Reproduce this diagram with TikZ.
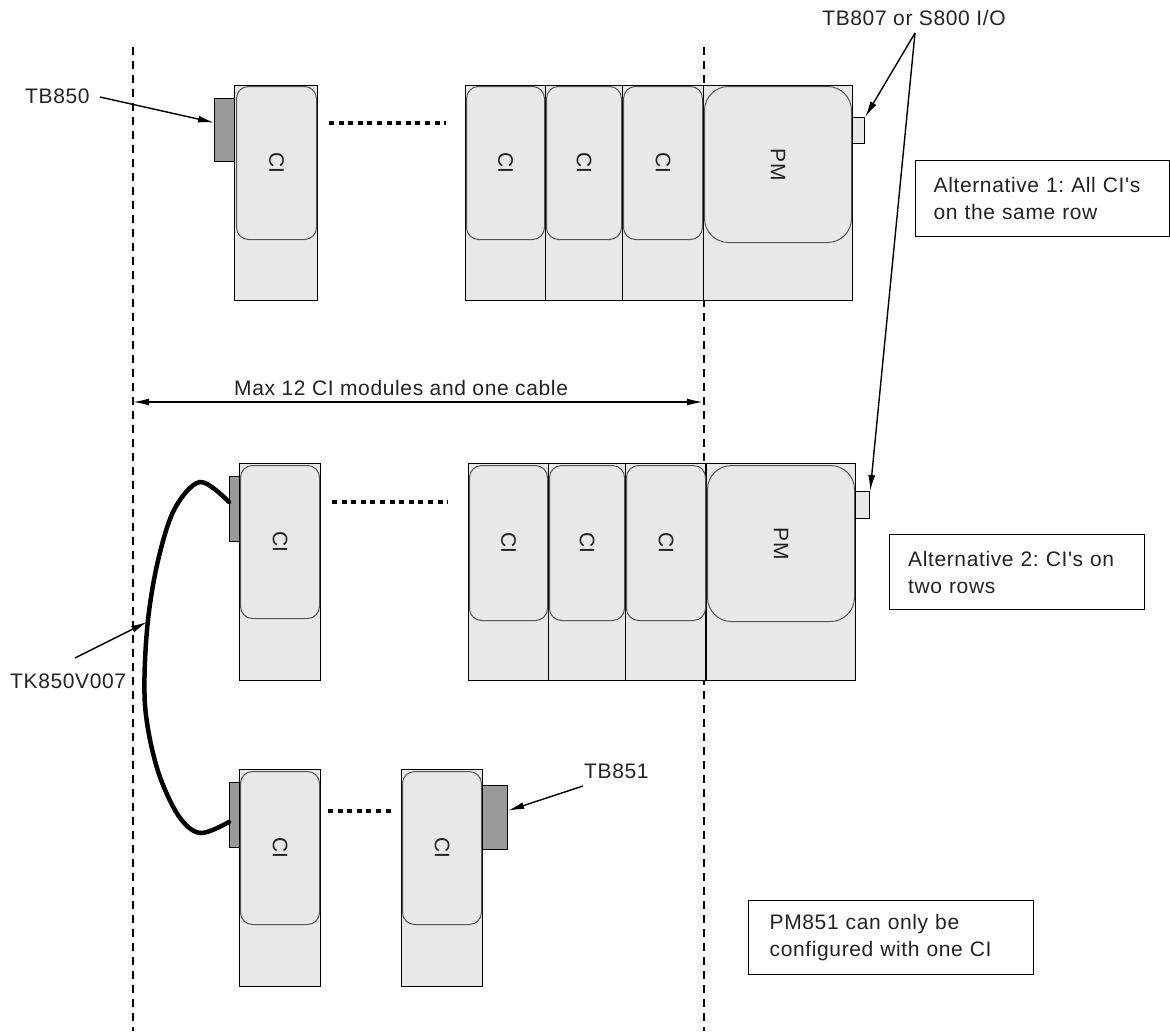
\documentclass[tikz,border=0pt]{standalone}
\usepackage{fontspec}
\newfontfamily\lsans{Liberation Sans}[LetterSpace=3]
\usetikzlibrary{arrows.meta}
\definecolor{modfill}{HTML}{E8E8E8}
\definecolor{conngray}{HTML}{999999}
\definecolor{innergray}{HTML}{555555}
\definecolor{txt}{HTML}{222222}
\newcommand\mylblfont{\lsans\fontsize{21}{27}\selectfont\frenchspacing}
\begin{document}
\begin{tikzpicture}[x=1pt,y=-1pt,
  outerbox/.style={draw=black, fill=modfill, line width=1.3pt, inner sep=0pt, anchor=north west},
  innerbox/.style={draw=innergray, fill=modfill, line width=1pt, rounded corners=12pt, inner sep=0pt, anchor=north west},
  pminner/.style={innerbox, rounded corners=24pt},
  connbox/.style={draw=black, fill=conngray, line width=1.2pt, inner sep=0pt, anchor=north west},
  smallbox/.style={draw=black, fill=modfill, line width=1.2pt, inner sep=0pt, anchor=north west},
  modlabel/.style={rotate=-90, font=\mylblfont, text=txt, inner sep=0pt},
  lbltext/.style={anchor=base west, inner sep=0pt, font=\mylblfont, text=txt},
  notebox/.style={draw=black, line width=1.3pt, anchor=north west, font=\mylblfont, text=txt, align=left, inner xsep=0pt, inner ysep=0pt},
  arr/.style={-{Latex[length=16pt,width=7pt]}, line width=1.4pt, draw=black},
  guide/.style={draw=black, line width=1.6pt, dash pattern=on 8pt off 6pt},
  dots/.style={draw=black, line width=4pt, dash pattern=on 5pt off 4.6pt},
  cable/.style={draw=black, line width=4.5pt, line cap=round}
]
\useasboundingbox (0,0) rectangle (1170,1031);
\fill[white] (0,0) rectangle (1170,1031);

% guide lines
\coordinate (gl1) at (133,47); \coordinate (gl2) at (133,1031);
\coordinate (gr1) at (704,47); \coordinate (gr2) at (704,1031);
\draw[guide] (gl1) -- (gl2);
\draw[guide] (gr1) -- (gr2);

% ---------- top row ----------
\node[outerbox, minimum width=83pt, minimum height=215pt] (t0) at (234,85) {};
\node[innerbox, minimum width=80pt, minimum height=153pt] (t0i) at (236,86) {};
\node[modlabel] (t0l) at (t0i.center) {CI};
\node[connbox, minimum width=20pt, minimum height=63pt] (tb850) at (214,98) {};

\node[outerbox, minimum width=80pt, minimum height=215pt] (ts1) at (465,85) {};
\node[outerbox, minimum width=77pt, minimum height=215pt] (ts2) at (545,85) {};
\node[outerbox, minimum width=81pt, minimum height=215pt] (ts3) at (622,85) {};
\node[outerbox, minimum width=149pt, minimum height=215pt] (tpm) at (703,85) {};
\node[innerbox, minimum width=78pt, minimum height=153pt] (ti1) at (466,86) {};
\node[innerbox, minimum width=75pt, minimum height=153pt] (ti2) at (546,86) {};
\node[innerbox, minimum width=79pt, minimum height=153pt] (ti3) at (623,86) {};
\node[pminner, minimum width=147pt, minimum height=156pt] (tpi) at (704,86) {};
\node[modlabel] (ti1l) at (ti1.center) {CI};
\node[modlabel] (ti2l) at (ti2.center) {CI};
\node[modlabel] (ti3l) at (ti3.center) {CI};
\node[modlabel] (tpil) at (tpi.center) {PM};
\node[smallbox, minimum width=12pt, minimum height=26pt] (tb807) at (852,117) {};

\coordinate (td1) at (329,123); \coordinate (td2) at (446,123);
\draw[dots] (td1) -- (td2);

% ---------- middle row ----------
\node[outerbox, minimum width=81pt, minimum height=217pt] (m0) at (239,463) {};
\node[innerbox, minimum width=79pt, minimum height=153pt] (m0i) at (240,465) {};
\node[modlabel] (m0l) at (m0i.center) {CI};
\node[connbox, minimum width=10pt, minimum height=65pt] (mconn) at (229,476) {};

\node[outerbox, minimum width=80pt, minimum height=217pt] (ms1) at (468,463) {};
\node[outerbox, minimum width=77pt, minimum height=217pt] (ms2) at (548,463) {};
\node[outerbox, minimum width=81pt, minimum height=217pt] (ms3) at (625,463) {};
\node[outerbox, minimum width=149pt, minimum height=217pt] (mpm) at (706,463) {};
\draw[line width=2.2pt] (mpm.north west) -- (mpm.south west);
\node[innerbox, minimum width=78pt, minimum height=155pt] (mi1) at (469,465) {};
\node[innerbox, minimum width=75pt, minimum height=155pt] (mi2) at (549,465) {};
\node[innerbox, minimum width=79pt, minimum height=155pt] (mi3) at (626,465) {};
\node[pminner, minimum width=147pt, minimum height=156pt] (mpi) at (707,465) {};
\node[modlabel] (mi1l) at (mi1.center) {CI};
\node[modlabel] (mi2l) at (mi2.center) {CI};
\node[modlabel] (mi3l) at (mi3.center) {CI};
\node[modlabel] (mpil) at (mpi.center) {PM};
\node[smallbox, minimum width=14pt, minimum height=27pt] (msmall) at (855,491) {};

\coordinate (md1) at (332,502); \coordinate (md2) at (448,502);
\draw[dots] (md1) -- (md2);

% ---------- bottom row ----------
\node[outerbox, minimum width=81pt, minimum height=217pt] (b0) at (239,769) {};
\node[innerbox, minimum width=79pt, minimum height=153pt] (b0i) at (240,771) {};
\node[modlabel] (b0l) at (b0i.center) {CI};
\node[connbox, minimum width=10pt, minimum height=65pt] (bconn) at (229,782) {};

\node[outerbox, minimum width=81pt, minimum height=217pt] (b1) at (401,769) {};
\node[innerbox, minimum width=79pt, minimum height=153pt] (b1i) at (402,771) {};
\node[modlabel] (b1l) at (b1i.center) {CI};
\node[connbox, minimum width=25pt, minimum height=64pt] (tb851) at (482,785) {};

\coordinate (bd1) at (328,811); \coordinate (bd2) at (394,811);
\draw[dots] (bd1) -- (bd2);

% ---------- cable ----------
\coordinate (cabA) at (229,502);
\coordinate (cabB) at (229,822);
\draw[cable] plot[smooth, tension=0.55] coordinates {(cabA) (200,482) (174,510) (157,565) (147,630) (145,705) (157,768) (178,815) (200,833) (cabB)};

% ---------- labels and arrows ----------
\node[lbltext] (tb850lbl) at (25,103) {TB850};
\coordinate (a1s) at (100,97);
\draw[arr] (a1s) -- ([yshift=7.5pt]tb850.west);

\node[anchor=base, inner sep=0pt, font=\mylblfont, text=txt] (tb807lbl) at (914,25) {TB807 or S800 I/O};
\coordinate (a2s) at (915,33);
\draw[arr] (a2s) -- (tb807.north east);
\draw[arr] (a2s) -- (msmall.north east);

\coordinate (ml) at (133,402); \coordinate (mr) at (703,402);
\draw[{Latex[length=16pt,width=7pt]}-{Latex[length=16pt,width=7pt]}, line width=1.4pt] (ml) -- (mr);
\node[lbltext] (maxlbl) at (234,395) {Max 12 CI modules and one cable};

\node[lbltext] (tklbl) at (10,688) {TK850V007};
\coordinate (a3s) at (75,658); \coordinate (cabpt) at (147,622);
\draw[arr] (a3s) -- (cabpt);

\node[lbltext] (tb851lbl) at (584,778) {TB851};
\coordinate (a4s) at (583,786);
\draw[arr] (a4s) -- ([yshift=7pt]tb851.east);

% ---------- notes ----------
\node[notebox, minimum width=254pt, minimum height=76pt, text width=218pt] (alt1) at (915,160) {Alternative 1: All CI's\\on the same row};
\node[notebox, minimum width=255pt, minimum height=75pt, text width=218pt] (alt2) at (889,534) {Alternative 2: CI's on\\two rows};
\node[notebox, minimum width=285pt, minimum height=74pt, text width=243pt] (note3) at (748,900) {PM851 can only be\\configured with one CI};
\end{tikzpicture}
\end{document}
